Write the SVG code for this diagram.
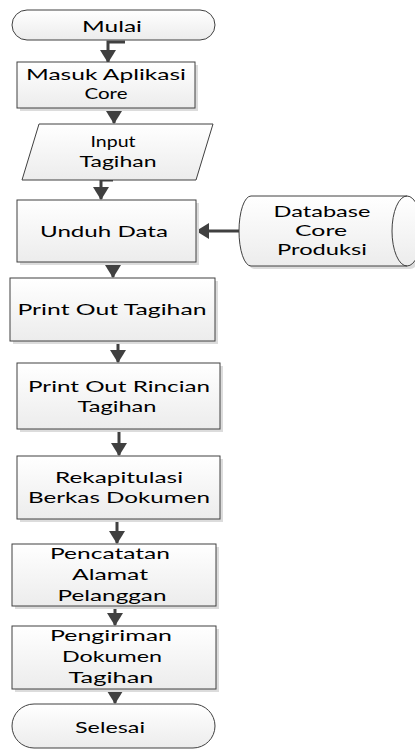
<svg xmlns="http://www.w3.org/2000/svg" width="415" height="751" viewBox="0 0 415 751">
<defs>
<linearGradient id="g" x1="0" y1="0" x2="0" y2="1">
<stop offset="0" stop-color="#ffffff"/>
<stop offset="1" stop-color="#ececec"/>
</linearGradient>
<marker id="ah" markerUnits="userSpaceOnUse" viewBox="0 0 13 16" refX="12" refY="8" markerWidth="13" markerHeight="16" orient="auto">
<path d="M0,0 L13,8 L0,16 Z" fill="#404040"/>
</marker>
</defs>
<style>
.s{fill:url(#g);stroke:#404040;stroke-width:1}
.sh{fill:#dcdcdc;stroke:none}
.t{font-family:Lato,"Liberation Sans",sans-serif;font-size:16px;fill:#000;text-anchor:middle}
.c{fill:none;stroke:#404040;stroke-width:3;marker-end:url(#ah)}
</style>
<rect width="415" height="751" fill="#ffffff"/>
<g id="connectors">
<path class="c" d="M125 42 H108 V62"/>
<path class="c" d="M122 108 H114 V123"/>
<path class="c" d="M113 180 H101 V199"/>
<path class="c" d="M240 231 H197"/>
<path class="c" d="M113 260 V277"/>
<path class="c" d="M118 341 V362"/>
<path class="c" d="M119 429 V455"/>
<path class="c" d="M132 519 H117 V543"/>
<path class="c" d="M115 606 V625"/>
<path class="c" d="M115 689 V703"/>
</g>
<g id="mulai">
<rect class="s" x="12" y="10" width="203" height="30" rx="15" ry="15"/>
<text class="t" x="112" y="32" textLength="60" lengthAdjust="spacingAndGlyphs">Mulai</text>
</g>
<g id="masuk">
<rect class="sh" x="20" y="65" width="178" height="46"/>
<rect class="s" x="17" y="62" width="178" height="46"/>
<text class="t" x="106" y="80" textLength="160" lengthAdjust="spacingAndGlyphs">Masuk Aplikasi</text>
<text class="t" x="106" y="99" textLength="43" lengthAdjust="spacingAndGlyphs">Core</text>
</g>
<g id="input">
<polygon class="s" points="39,124 213,124 196,180 22,180"/>
<text class="t" x="113" y="147" textLength="45" lengthAdjust="spacingAndGlyphs">Input</text>
<text class="t" x="118" y="167" textLength="77" lengthAdjust="spacingAndGlyphs">Tagihan</text>
</g>
<g id="unduh">
<rect class="sh" x="20" y="203" width="179" height="62"/>
<rect class="s" x="17" y="200" width="179" height="62"/>
<text class="t" x="104" y="237" textLength="128" lengthAdjust="spacingAndGlyphs">Unduh Data</text>
</g>
<g id="database">
<path class="sh" d="M254 199 L410 199 A15 35 0 0 1 410 269 L254 269 A12 35 0 0 1 254 199 Z"/>
<path class="s" d="M251 196 L407 196 A15 35 0 0 1 407 266 L251 266 A12 35 0 0 1 251 196 Z"/>
<path d="M407 196 A15 35 0 0 0 407 266" fill="none" stroke="#404040" stroke-width="1"/>
<text class="t" x="322" y="217" textLength="97" lengthAdjust="spacingAndGlyphs">Database</text>
<text class="t" x="321" y="236" textLength="52" lengthAdjust="spacingAndGlyphs">Core</text>
<text class="t" x="322" y="255" textLength="90" lengthAdjust="spacingAndGlyphs">Produksi</text>
</g>
<g id="printtagihan">
<rect class="sh" x="13" y="281" width="205" height="63"/>
<rect class="s" x="10" y="278" width="205" height="63"/>
<text class="t" x="112" y="315" textLength="189" lengthAdjust="spacingAndGlyphs">Print Out Tagihan</text>
</g>
<g id="printrincian">
<rect class="sh" x="20" y="366" width="203" height="66"/>
<rect class="s" x="17" y="363" width="203" height="66"/>
<text class="t" x="119" y="392" textLength="182" lengthAdjust="spacingAndGlyphs">Print Out Rincian</text>
<text class="t" x="117" y="412" textLength="79" lengthAdjust="spacingAndGlyphs">Tagihan</text>
</g>
<g id="rekap">
<rect class="sh" x="20" y="459" width="203" height="63"/>
<rect class="s" x="17" y="456" width="203" height="63"/>
<text class="t" x="119" y="483" textLength="128" lengthAdjust="spacingAndGlyphs">Rekapitulasi</text>
<text class="t" x="119" y="503" textLength="182" lengthAdjust="spacingAndGlyphs">Berkas Dokumen</text>
</g>
<g id="pencatatan">
<rect class="sh" x="15" y="547" width="204" height="62"/>
<rect class="s" x="12" y="544" width="204" height="62"/>
<text class="t" x="110" y="559" textLength="120" lengthAdjust="spacingAndGlyphs">Pencatatan</text>
<text class="t" x="110" y="580" textLength="76" lengthAdjust="spacingAndGlyphs">Alamat</text>
<text class="t" x="112" y="601" textLength="109" lengthAdjust="spacingAndGlyphs">Pelanggan</text>
</g>
<g id="pengiriman">
<rect class="sh" x="15" y="629" width="204" height="63"/>
<rect class="s" x="12" y="626" width="204" height="63"/>
<text class="t" x="111" y="641" textLength="122" lengthAdjust="spacingAndGlyphs">Pengiriman</text>
<text class="t" x="112" y="662" textLength="100" lengthAdjust="spacingAndGlyphs">Dokumen</text>
<text class="t" x="111" y="683" textLength="85" lengthAdjust="spacingAndGlyphs">Tagihan</text>
</g>
<g id="selesai">
<rect class="s" x="12" y="704" width="203" height="44" rx="22" ry="22"/>
<text class="t" x="110" y="733" textLength="70" lengthAdjust="spacingAndGlyphs">Selesai</text>
</g>
</svg>
